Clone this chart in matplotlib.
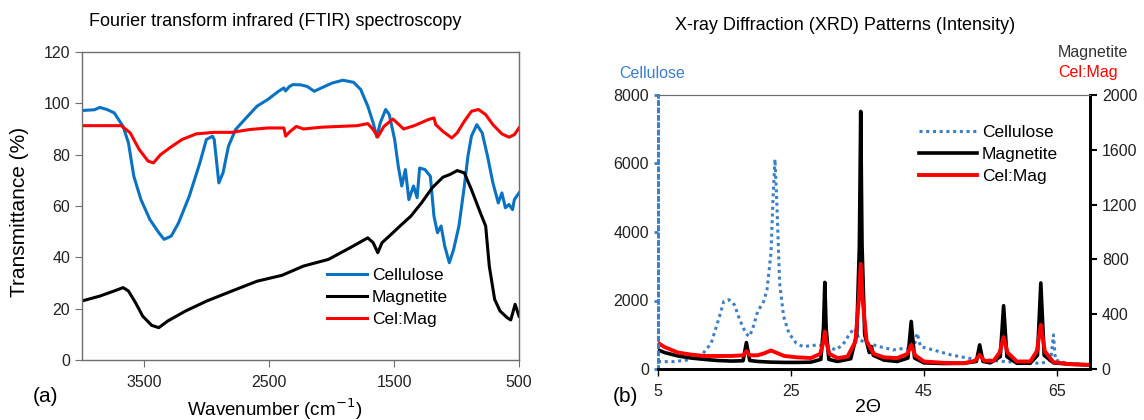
import matplotlib
matplotlib.use("Agg")
import matplotlib.pyplot as plt

plt.rcParams['font.family'] = ['Liberation Sans', 'DejaVu Sans']

# ---- FTIR data (wavenumber cm-1, transmittance %) ----
cel_wn = [4000, 3900, 3857, 3800, 3742, 3671, 3628, 3585, 3528, 3456, 3385, 3342, 3285,
          3227, 3141, 3056, 3004, 2955, 2941, 2904, 2870, 2827, 2770, 2684, 2598, 2512,
          2426, 2383, 2370, 2340, 2312, 2250, 2197, 2140, 2083, 1997, 1911, 1825, 1768,
          1711, 1668, 1639, 1611, 1568, 1539, 1496, 1467, 1439, 1410, 1382, 1345, 1316,
          1296, 1253, 1210, 1181, 1153, 1124, 1095, 1058, 1024, 981, 938, 909, 881, 838,
          795, 752, 709, 666, 637, 609, 580, 552, 537, 500]
cel_t = [97.2, 97.5, 98.4, 97.6, 96.3, 91, 84.6, 71.6, 62.5, 54.7, 49.6, 47, 48.3,
         53.4, 63.8, 76.8, 85.9, 87.2, 85.9, 69, 73, 83.3, 89.8, 94.4, 98.9, 101.5,
         104.7, 106, 104.8, 106.5, 107.3, 107.2, 106.6, 104.7, 106, 107.9, 109, 108.2, 105.4,
         98.9, 92.4, 86.9, 92.4, 97.6, 95.6, 85.9, 75.5, 67.8, 74.2, 62.5, 67.8, 63.2,
         74.8, 74.2, 71.6, 56, 49.6, 52.2, 44.4, 37.9, 43, 52.2, 67.7, 79.4, 87.2, 91.7,
         88.5, 79.4, 69, 61.2, 65.1, 59.3, 60.6, 58.6, 62.5, 65.1]

mag_wn = [4000, 3857, 3742, 3671, 3628, 3571, 3514, 3442, 3385, 3313, 3170, 3000, 2798,
          2598, 2398, 2226, 2026, 1854, 1711, 1668, 1631, 1597, 1525, 1453, 1367, 1281,
          1195, 1110, 1052, 995, 938, 881, 809, 767, 738, 695, 652, 595, 566, 531, 500]
mag_t = [23, 24.9, 26.9, 28.2, 26.9, 22.3, 17.1, 13.5, 12.6, 15.2, 19.1, 23, 26.9,
         30.7, 33, 36.6, 39.2, 43.7, 47.6, 45.7, 41.8, 45.7, 48.9, 52.2, 56, 61.2,
         67.1, 71.2, 72.3, 73.8, 72.9, 66.4, 57.3, 52.2, 36.6, 23.6, 19.1, 16.5, 15.6, 21.7, 17.1]

cm_wn = [4000, 3686, 3614, 3542, 3471, 3428, 3371, 3299, 3199, 3085, 2941, 2798, 2656,
         2512, 2383, 2369, 2341, 2284, 2226, 2083, 1940, 1797, 1711, 1668, 1631, 1582,
         1510, 1424, 1339, 1225, 1181, 1167, 1110, 1038, 995, 938, 881, 824, 767, 709,
         637, 580, 537, 500]
cm_t = [91.3, 91.3, 88.5, 82, 77.5, 76.8, 80, 82.6, 85.9, 88.1, 88.7, 88.7, 89.8,
        90.4, 90.4, 87.2, 88.7, 91.0, 90, 90.7, 91, 91.3, 92.1, 89.8, 86.9, 91,
        93.9, 90, 91.3, 93.7, 94.3, 91.7, 89.1, 86.5, 88.5, 93, 96.9, 97.6, 95.6, 91.7,
        88.1, 86.8, 87.8, 90.4]

# ---- XRD data (2theta, intensity) ----
xc_2t = [5, 7.3, 9.5, 11.6, 13, 14.1, 14.9, 15.7, 16.5, 17.3, 18.2, 18.7, 19.2, 20,
         20.9, 21.4, 22, 22.3, 22.6, 22.9, 23.3, 23.9, 24.7, 25.8, 26.8, 29, 30.7, 31.7,
         32.8, 33.9, 34.6, 35.3, 36.6, 38.3, 40.4, 42.1, 43.4, 44, 44.5, 46.4, 49.1,
         51.8, 54.6, 57.3, 60, 62.7, 64.1, 64.5, 64.8, 66.5, 70]
xc_i = [215, 215, 264, 410, 752, 1436, 1973, 2022, 1875, 1436, 1045, 947, 1143, 1680,
        1973, 2315, 3390, 4952, 6124, 4757, 2510, 1534, 1045, 752, 654, 703, 654, 557,
        703, 1045, 1192, 850, 752, 654, 557, 606, 557, 1045, 654, 557, 410,
        313, 264, 215, 186, 166, 264, 996, 264, 166, 117]

xm_2t = [5, 6, 8, 10, 12, 14, 16, 17.8, 18.3, 18.8, 20, 22, 24, 26, 28, 29.5, 29.9, 30.1,
         30.3, 30.7, 32, 34, 34.9, 35.3, 35.5, 35.7, 36.1, 36.8, 37.1, 37.4, 39, 41, 42.6,
         43.1, 43.6, 45, 48, 51, 52.9, 53.4, 53.9, 55, 56.5, 57, 57.5, 59, 61, 62.1, 62.6,
         63.1, 64.5, 67, 70]
xm_i = [140, 120, 95, 80, 70, 62, 58, 60, 193, 62, 55, 50, 48, 48, 50, 70, 300, 632,
        300, 70, 55, 75, 250, 900, 1880, 900, 250, 120, 164, 100, 65, 55, 80,
        347, 80, 45, 40, 42, 55, 176, 55, 45, 90, 462, 90, 42, 42, 100, 628,
        100, 45, 35, 30]

xcm_2t = [5, 6, 8, 10, 12, 14, 16, 17.8, 18.3, 18.8, 20, 21, 22, 23, 24, 26, 28, 29.4,
          29.9, 30.1, 30.3, 30.8, 32, 33.5, 34.7, 35.2, 35.5, 35.8, 36.4, 37.5, 39, 41,
          42.5, 43.1, 43.7, 45, 48, 51, 52.7, 53.4, 54.1, 55.5, 56.4, 57, 57.6, 59, 61,
          62, 62.6, 63.2, 64.5, 67, 70]
xcm_i = [190, 160, 120, 105, 95, 95, 95, 100, 130, 100, 100, 115, 135, 115, 95, 85, 80, 110,
         200, 273, 200, 110, 80, 90, 200, 500, 767, 500, 200, 110, 85, 80,
         110, 176, 100, 55, 45, 42, 60, 103, 60, 60, 120, 232, 120, 55, 55,
         130, 322, 130, 50, 35, 30]

W, H = 1144, 420
fig = plt.figure(figsize=(W/100, H/100), dpi=100)

def box(x0, y0, x1, y1):
    # pixel box -> figure fraction
    return [x0/W, 1-y1/H, (x1-x0)/W, (y1-y0)/H]

def ftext(x, y, s, **kw):
    fig.text(x/W, 1-y/H, s, ha=kw.pop('ha', 'center'), va=kw.pop('va', 'center'), **kw)

BLUE = '#0A72C2'
BLUE2 = '#3D7FC6'
GRAY = '#6e6e6e'
TXT = '#222222'
TS = 11.5  # tick label size

# ---- (a) FTIR ----
ax1 = fig.add_axes(box(82, 52, 519, 360))
ax1.plot(cel_wn, cel_t, color=BLUE, lw=2.2, label='Cellulose')
ax1.plot(mag_wn, mag_t, color='black', lw=2.2, label='Magnetite')
ax1.plot(cm_wn, cm_t, color='red', lw=2.2, label='Cel:Mag')
ax1.set_xlim(4000, 500)
ax1.set_ylim(0, 120)
ax1.set_xticks([3500, 2500, 1500, 500])
ax1.set_yticks(range(0, 121, 20))
for s in ax1.spines.values():
    s.set_color(GRAY)
    s.set_linewidth(1)
ax1.tick_params(direction='out', length=5, color=GRAY, labelsize=TS, labelcolor=TXT)
ax1.tick_params(axis='x', pad=6)
ax1.legend(loc='upper left', bbox_to_anchor=(0.56, 0.30), frameon=False, fontsize=12.5,
           handlelength=2.3, handletextpad=0.3, labelspacing=0.4, borderaxespad=0,
           borderpad=0)

ftext(275, 22, 'Fourier transform infrared (FTIR) spectroscopy', fontsize=13)
ftext(20, 212, 'Transmittance (%)', fontsize=15, rotation=90)
ftext(275, 409, 'Wavenumber (cm$^{-1}$)', fontsize=13.5)
ftext(46, 396, '(a)', fontsize=15)

# ---- (b) XRD ----
ax2 = fig.add_axes(box(658, 95, 1090, 369))
axr = ax2.twinx()
l1, = ax2.plot(xc_2t, xc_i, color=BLUE2, lw=2.2, ls=(0, (1, 1.2)), label='Cellulose')
l2, = axr.plot(xm_2t, xm_i, color='black', lw=2.6, label='Magnetite')
l3, = axr.plot(xcm_2t, xcm_i, color='red', lw=2.8, label='Cel:Mag')
ax2.set_xlim(5, 70)
ax2.set_ylim(0, 8000)
axr.set_ylim(0, 2000)
ax2.set_xticks([5, 25, 45, 65])
ax2.set_yticks(range(0, 8001, 2000))
axr.set_yticks(range(0, 2001, 400))
for a in (ax2, axr):
    a.spines['top'].set_color(GRAY)
    a.spines['bottom'].set_color('black')
    a.spines['bottom'].set_linewidth(2)
    a.spines['right'].set_color('black')
    a.spines['right'].set_linewidth(2)
    a.spines['left'].set_color(BLUE2)
    a.spines['left'].set_linestyle(':')
    a.spines['left'].set_linewidth(2)
ax2.tick_params(axis='y', direction='out', length=3, width=2, color=BLUE2,
                labelsize=TS, labelcolor=TXT)
ax2.tick_params(axis='x', direction='out', length=5, width=1, color='black',
                labelsize=TS, labelcolor=TXT, pad=6)
axr.tick_params(axis='y', direction='out', length=5, width=1.5, color='black',
                labelsize=TS, labelcolor=TXT)
axr.legend(handles=[l1, l2, l3], loc='upper left', bbox_to_anchor=(0.605, 0.89),
           frameon=False, fontsize=12.5, handlelength=3.3, handletextpad=0.3,
           labelspacing=0.4, borderaxespad=0, borderpad=0)

ftext(845, 25, 'X-ray Diffraction (XRD) Patterns (Intensity)', fontsize=13)
ftext(652, 74, 'Cellulose', fontsize=11.5, color=BLUE2)
ftext(1058, 53, 'Magnetite', fontsize=11.5, color='#333333', ha='left')
ftext(1058, 73, 'Cel:Mag', fontsize=11.5, color='red', ha='left')
ftext(868, 408, '2\u0398', fontsize=14)
ftext(625, 397, '(b)', fontsize=15)

fig.savefig('out.png', dpi=100)
